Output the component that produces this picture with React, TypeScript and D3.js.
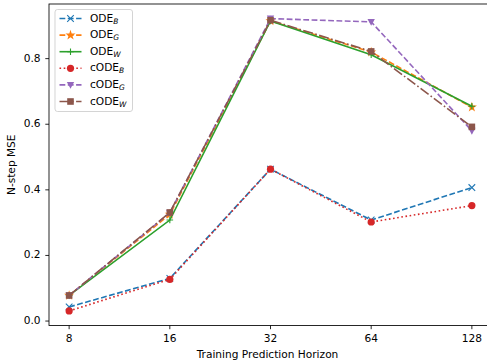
import React from 'react'
import * as d3 from 'd3'

const horizons = ['8', '16', '32', '64', '128']
const yTicks = [0, 0.2, 0.4, 0.6, 0.8]

const odeB = [0.043, 0.13, 0.463, 0.308, 0.407]
const odeG = [0.078, 0.325, 0.915, 0.82, 0.652]
const odeW = [0.078, 0.308, 0.915, 0.812, 0.655]
const codeB = [0.031, 0.127, 0.463, 0.302, 0.352]
const codeG = [0.078, 0.33, 0.922, 0.912, 0.58]
const codeW = [0.078, 0.331, 0.917, 0.822, 0.592]

type Marker = 'x' | 'star' | 'plus' | 'circle' | 'tri' | 'square'

interface Series {
  base: string
  sub: string
  values: number[]
  color: string
  dash: string
  marker: Marker
}

const series: Series[] = [
  { base: 'ODE', sub: 'B', values: odeB, color: '#1f77b4', dash: '5.8,2.5', marker: 'x' },
  { base: 'ODE', sub: 'G', values: odeG, color: '#ff7f0e', dash: '5.8,2.5', marker: 'star' },
  { base: 'ODE', sub: 'W', values: odeW, color: '#2ca02c', dash: '', marker: 'plus' },
  { base: 'cODE', sub: 'B', values: codeB, color: '#d62728', dash: '1.6,2.6', marker: 'circle' },
  { base: 'cODE', sub: 'G', values: codeG, color: '#9467bd', dash: '5.8,2.5', marker: 'tri' },
  { base: 'cODE', sub: 'W', values: codeW, color: '#8c564b', dash: '10,2.5,1.6,2.5', marker: 'square' },
]

const W = 487
const H = 364
const left = 49
const right = 492
const top = 4
const bottom = 325.5
const font = 'DejaVu Sans, sans-serif'

const MarkerShape: React.FC<{ m: Marker; x: number; y: number; c: string }> = ({ m, x, y, c }) => {
  const s = 3.3
  if (m === 'x')
    return <path d={`M${x - s},${y - s}L${x + s},${y + s}M${x - s},${y + s}L${x + s},${y - s}`} stroke={c} strokeWidth={1.1} />
  if (m === 'plus')
    return <path d={`M${x - s},${y}L${x + s},${y}M${x},${y - s}L${x},${y + s}`} stroke={c} strokeWidth={1.1} />
  if (m === 'circle') return <circle cx={x} cy={y} r={3.6} fill={c} />
  if (m === 'square') return <rect x={x - 3.3} y={y - 3.3} width={6.6} height={6.6} fill={c} />
  if (m === 'tri')
    return <path d={`M${x - 3.7},${y - 3}L${x + 3.7},${y - 3}L${x},${y + 3.9}Z`} fill={c} />
  const star = d3.symbol(d3.symbolStar, 32)()
  return <path d={star ?? ''} transform={`translate(${x},${y})`} fill={c} />
}

const Label: React.FC<{ base: string; sub: string; x: number; y: number }> = ({ base, sub, x, y }) => (
  <text x={x} y={y} fontFamily={font} fontSize={10.6} dominantBaseline="middle" fill="#000">
    {base}
    <tspan fontSize={7.5} fontStyle="italic" dy={3}>{sub}</tspan>
  </text>
)

export default function App() {
  const x = d3.scalePoint<string>().domain(horizons).range([left, right]).padding(0.2)
  const all = series.flatMap(s => s.values)
  const lo = d3.min(all) ?? 0
  const hi = d3.max(all) ?? 1
  const pad = (hi - lo) * 0.05
  const y = d3.scaleLinear().domain([lo - pad, hi + pad]).range([bottom, top])

  const line = d3
    .line<number>()
    .x((_, i) => x(horizons[i]) ?? 0)
    .y(d => y(d))

  return (
    <svg width={W} height={H} style={{ position: 'absolute', left: 0, top: 0, background: '#fff' }}>
      {series.map(s => (
        <g key={s.base + s.sub}>
          <path d={line(s.values) ?? ''} fill="none" stroke={s.color} strokeWidth={1.6} strokeDasharray={s.dash} />
          {s.values.map((v, i) => (
            <MarkerShape key={i} m={s.marker} x={x(horizons[i]) ?? 0} y={y(v)} c={s.color} />
          ))}
        </g>
      ))}

      {/* axes frame */}
      <rect x={left} y={top} width={right - left} height={bottom - top} fill="none" stroke="#000" strokeWidth={0.85} />

      {yTicks.map(t => (
        <g key={t}>
          <line x1={left - 3.7} x2={left} y1={y(t)} y2={y(t)} stroke="#000" strokeWidth={0.85} />
          <text x={left - 8.5} y={y(t)} textAnchor="end" dominantBaseline="middle" fontFamily={font} fontSize={10.6}>
            {t.toFixed(1)}
          </text>
        </g>
      ))}
      {horizons.map(h => (
        <g key={h}>
          <line x1={x(h)} x2={x(h)} y1={bottom} y2={bottom + 3.7} stroke="#000" strokeWidth={0.85} />
          <text x={x(h)} y={bottom + 16.5} textAnchor="middle" fontFamily={font} fontSize={10.6}>
            {h}
          </text>
        </g>
      ))}

      <text x={(left + right) / 2 - 3} y={357.5} textAnchor="middle" fontFamily={font} fontSize={10.6}>
        Training Prediction Horizon
      </text>
      <text
        transform={`translate(15,${(top + bottom) / 2}) rotate(-90)`}
        textAnchor="middle"
        fontFamily={font}
        fontSize={10.6}
      >
        N-step MSE
      </text>

      {/* legend */}
      <g>
        <rect x={55} y={9.5} width={77.5} height={102} rx={2.5} fill="#fff" fillOpacity={0.8} stroke="#ccc" strokeWidth={0.85} />
        {series.map((s, i) => {
          const ly = 18.5 + i * 16.6
          return (
            <g key={i}>
              <line x1={59.5} x2={81.5} y1={ly} y2={ly} stroke={s.color} strokeWidth={1.6} strokeDasharray={s.dash} />
              <MarkerShape m={s.marker} x={70.5} y={ly} c={s.color} />
              <Label base={s.base} sub={s.sub} x={90} y={ly} />
            </g>
          )
        })}
      </g>
    </svg>
  )
}
